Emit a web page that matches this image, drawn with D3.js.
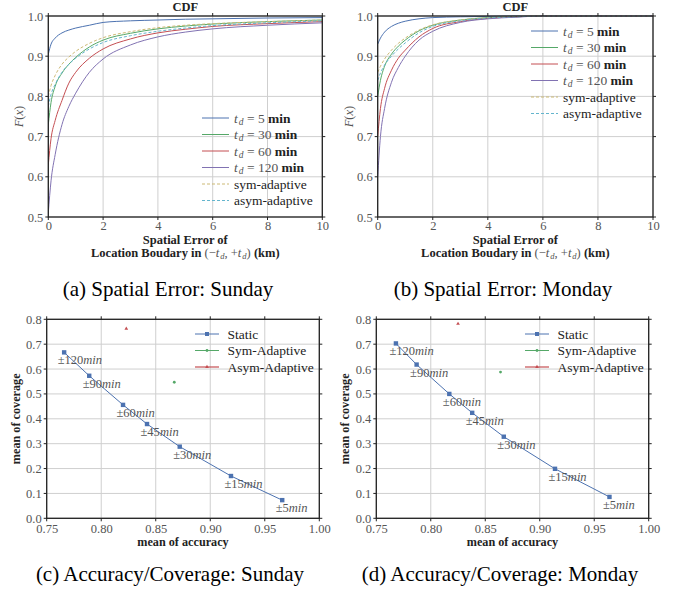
<!DOCTYPE html>
<html>
<head>
<meta charset="utf-8">
<script src="https://cdn.jsdelivr.net/npm/d3@7"></script>
<style>
  body { margin: 0; background: #fff; }
  svg text { font-family: "Liberation Serif", "DejaVu Serif", "Times New Roman", serif; }
</style>
</head>
<body>
<div id="chart"></div>
<script>
// sample positions along the spatial error axis (km)
const cdfX = [0, 0.1, 0.25, 0.5, 0.75, 1, 1.5, 2, 3, 4, 5, 6, 8, 10];

// Sunday CDF curves
const sunTd5   = [0.905, 0.93, 0.945, 0.958, 0.965, 0.97, 0.977, 0.984, 0.988, 0.99, 0.992, 0.993, 0.995, 0.996];
const sunTd30  = [0.73, 0.785, 0.825, 0.858, 0.88, 0.897, 0.923, 0.94, 0.957, 0.968, 0.975, 0.98, 0.986, 0.99];
const sunTd60  = [0.63, 0.695, 0.74, 0.79, 0.833, 0.86, 0.895, 0.918, 0.943, 0.958, 0.967, 0.974, 0.981, 0.986];
const sunTd120 = [0.51, 0.59, 0.655, 0.73, 0.775, 0.808, 0.86, 0.893, 0.928, 0.948, 0.96, 0.968, 0.977, 0.983];
const sunSym   = [0.80, 0.827, 0.852, 0.88, 0.898, 0.912, 0.932, 0.946, 0.961, 0.971, 0.977, 0.981, 0.986, 0.99];
const sunAsym  = [0.775, 0.805, 0.83, 0.86, 0.88, 0.895, 0.918, 0.934, 0.951, 0.962, 0.97, 0.976, 0.983, 0.988];

// Monday CDF curves
const monTd5   = [0.93, 0.945, 0.96, 0.974, 0.982, 0.987, 0.993, 0.996, 0.998, 0.999, 1.0, 1.0, 1.0, 1.0];
const monTd30  = [0.80, 0.84, 0.875, 0.905, 0.925, 0.94, 0.963, 0.977, 0.99, 0.996, 0.998, 1.0, 1.0, 1.0];
const monTd60  = [0.70, 0.77, 0.82, 0.865, 0.895, 0.915, 0.948, 0.969, 0.986, 0.994, 0.998, 1.0, 1.0, 1.0];
const monTd120 = [0.60, 0.70, 0.77, 0.835, 0.872, 0.9, 0.94, 0.962, 0.984, 0.993, 0.997, 1.0, 1.0, 1.0];
const monSym   = [0.86, 0.875, 0.893, 0.915, 0.932, 0.945, 0.965, 0.978, 0.99, 0.996, 0.999, 1.0, 1.0, 1.0];
const monAsym  = [0.84, 0.858, 0.878, 0.9, 0.918, 0.933, 0.958, 0.974, 0.988, 0.995, 0.998, 1.0, 1.0, 1.0];

const cdfNames = ['5', '30', '60', '120'];

// accuracy / coverage
const windowLabels = ['120', '90', '60', '45', '30', '15', '5'];
const sunAccuracy = [0.766, 0.789, 0.820, 0.842, 0.872, 0.919, 0.966];
const sunCoverage = [0.667, 0.573, 0.456, 0.379, 0.288, 0.170, 0.073];
const sunSymPoint = [0.867, 0.547];
const sunAsymPoint = [0.823, 0.762];

const monAccuracy = [0.768, 0.787, 0.817, 0.838, 0.867, 0.914, 0.964];
const monCoverage = [0.703, 0.618, 0.500, 0.424, 0.328, 0.199, 0.086];
const monSymPoint = [0.864, 0.588];
const monAsymPoint = [0.825, 0.782];

const colors = {
  blue: '#4C72B0', green: '#55A868', red: '#C44E52',
  purple: '#8172B2', yellow: '#CCB974', cyan: '#64B5CD'
};
const tickColor = '#555';
const spineColor = '#222';
const gridColor = '#cfcfcf';
const serif = '"Liberation Serif", "DejaVu Serif", serif';

const svg = d3.select('#chart').append('svg')
  .attr('width', 677)
  .attr('height', 591)
  .attr('font-family', serif);

function drawFrame(g, x, y, w, h, xTicks, yTicks, xFmt, yFmt, xPad) {
  // grid
  g.append('g').selectAll('line').data(xTicks).join('line')
    .attr('x1', d => x(d)).attr('x2', d => x(d))
    .attr('y1', 0).attr('y2', h)
    .attr('stroke', gridColor).attr('stroke-width', 1);
  g.append('g').selectAll('line').data(yTicks).join('line')
    .attr('y1', d => y(d)).attr('y2', d => y(d))
    .attr('x1', 0).attr('x2', w)
    .attr('stroke', gridColor).attr('stroke-width', 1);

  const ax = d3.axisBottom(x).tickValues(xTicks).tickFormat(xFmt).tickSize(0).tickPadding(xPad);
  const ay = d3.axisLeft(y).tickValues(yTicks).tickFormat(yFmt).tickSize(0).tickPadding(5);
  const gx = g.append('g').attr('transform', `translate(0,${h})`).call(ax);
  const gy = g.append('g').call(ay);
  [gx, gy].forEach(a => {
    a.attr('font-family', serif).attr('font-size', 12.5);
    a.select('.domain').remove();
    a.selectAll('text').attr('fill', tickColor);
  });
}

function drawSpines(g, x, y, w, h, xTicks, yTicks) {
  // small tick marks on all four sides
  const t = g.append('g').attr('stroke', spineColor).attr('stroke-width', 1);
  xTicks.forEach(d => {
    t.append('line').attr('x1', x(d)).attr('x2', x(d)).attr('y1', h).attr('y2', h + 3);
    t.append('line').attr('x1', x(d)).attr('x2', x(d)).attr('y1', 0).attr('y2', -3);
  });
  yTicks.forEach(d => {
    t.append('line').attr('y1', y(d)).attr('y2', y(d)).attr('x1', 0).attr('x2', -3);
    t.append('line').attr('y1', y(d)).attr('y2', y(d)).attr('x1', w).attr('x2', w + 3);
  });
  g.append('rect')
    .attr('width', w).attr('height', h)
    .attr('fill', 'none').attr('stroke', spineColor).attr('stroke-width', 1.3);
}

// italic t with subscript d, written into a text element
function tdMath(t, fill, sub) {
  t.append('tspan').attr('fill', fill).attr('font-style', 'italic').text('t');
  t.append('tspan').attr('fill', fill).attr('font-style', 'italic')
    .attr('font-size', sub).attr('dx', 1).attr('dy', 2).text('d');
}

function cdfPanel(opts) {
  const { left, right, top, bottom, series, legendX, legendY, caption, capX } = opts;
  const w = right - left, h = bottom - top;
  const g = svg.append('g').attr('transform', `translate(${left},${top})`);

  const x = d3.scaleLinear().domain([0, 10]).range([0, w]);
  const y = d3.scaleLinear().domain([0.5, 1.0]).range([h, 0]);
  const xTicks = [0, 2, 4, 6, 8, 10];
  const yTicks = [0.5, 0.6, 0.7, 0.8, 0.9, 1.0];

  drawFrame(g, x, y, w, h, xTicks, yTicks, d3.format('d'), d3.format('.1f'), 4);

  const line = d3.line()
    .x((d, i) => x(cdfX[i]))
    .y(d => y(d))
    .curve(d3.curveMonotoneX);

  const clip = 'clip' + Math.round(left);
  g.append('clipPath').attr('id', clip).append('rect')
    .attr('x', 0).attr('y', -1).attr('width', w).attr('height', h + 1);

  g.append('g').attr('clip-path', `url(#${clip})`)
    .selectAll('path').data(series).join('path')
    .attr('d', d => line(d.values))
    .attr('fill', 'none')
    .attr('stroke', d => d.color)
    .attr('stroke-width', 1)
    .attr('stroke-dasharray', d => d.dashed ? '3,2' : null);

  drawSpines(g, x, y, w, h, xTicks, yTicks);

  // title
  g.append('text').attr('x', w / 2).attr('y', -5)
    .attr('text-anchor', 'middle')
    .attr('font-size', 12.5).attr('font-weight', 'bold').attr('fill', '#222')
    .text('CDF');

  // y label
  const yl = g.append('text')
    .attr('transform', `translate(-25,${h / 2}) rotate(-90)`)
    .attr('text-anchor', 'middle')
    .attr('font-size', 12.5).attr('fill', tickColor);
  yl.append('tspan').attr('font-style', 'italic').text('F');
  yl.append('tspan').text('(');
  yl.append('tspan').attr('font-style', 'italic').text('x');
  yl.append('tspan').text(')');

  // x label (two lines)
  g.append('text').attr('x', w / 2).attr('y', h + 27)
    .attr('text-anchor', 'middle')
    .attr('font-size', 12.5).attr('font-weight', 'bold').attr('fill', '#222')
    .text('Spatial Error of');
  const xl = g.append('text').attr('x', w / 2).attr('y', h + 39.5)
    .attr('text-anchor', 'middle')
    .attr('font-size', 12.5).attr('fill', '#222');
  xl.append('tspan').attr('font-weight', 'bold').text('Location Boudary in ');
  xl.append('tspan').attr('fill', tickColor).text('(−');
  tdMath(xl, tickColor, 8.5);
  xl.append('tspan').attr('fill', tickColor).attr('dy', -2).text(', +');
  tdMath(xl, tickColor, 8.5);
  xl.append('tspan').attr('fill', tickColor).attr('dy', -2).text(') ');
  xl.append('tspan').attr('font-weight', 'bold').text('(km)');

  // legend
  const lg = svg.append('g').attr('transform', `translate(${legendX},${legendY})`);
  series.forEach((s, i) => {
    const row = lg.append('g').attr('transform', `translate(0,${i * 16.5})`);
    row.append('line').attr('x1', 0).attr('x2', 27).attr('y1', 0).attr('y2', 0)
      .attr('stroke', s.color).attr('stroke-width', 1)
      .attr('stroke-dasharray', s.dashed ? '3,2' : null);
    const t = row.append('text').attr('x', 32).attr('y', 4.5)
      .attr('font-size', 13.5).attr('fill', '#222');
    if (s.td) {
      tdMath(t, tickColor, 9.5);
      t.append('tspan').attr('fill', tickColor).attr('dy', -2).text(' = ' + s.td + ' ');
      t.append('tspan').attr('font-weight', 'bold').text('min');
    } else {
      t.append('tspan').text(s.name);
    }
  });

  svg.append('text').attr('x', capX).attr('y', 296)
    .attr('text-anchor', 'middle')
    .attr('font-size', 21).attr('fill', '#000')
    .text(caption);
}

function scatterPanel(opts) {
  const { left, right, top, bottom, acc, cov, sym, asym, legendX, legendY, caption, capX } = opts;
  const w = right - left, h = bottom - top;
  const g = svg.append('g').attr('transform', `translate(${left},${top})`);

  const x = d3.scaleLinear().domain([0.75, 1.0]).range([0, w]);
  const y = d3.scaleLinear().domain([0, 0.8]).range([h, 0]);
  const xTicks = [0.75, 0.80, 0.85, 0.90, 0.95, 1.00];
  const yTicks = [0, 0.1, 0.2, 0.3, 0.4, 0.5, 0.6, 0.7, 0.8];

  drawFrame(g, x, y, w, h, xTicks, yTicks, d3.format('.2f'), d3.format('.1f'), 6);

  const pts = acc.map((a, i) => ({ a, c: cov[i], label: windowLabels[i] }));
  const line = d3.line().x(d => x(d.a)).y(d => y(d.c));

  g.append('path').attr('d', line(pts))
    .attr('fill', 'none').attr('stroke', colors.blue).attr('stroke-width', 1);

  g.selectAll('rect.pt').data(pts).join('rect')
    .attr('class', 'pt')
    .attr('x', d => x(d.a) - 2.2).attr('y', d => y(d.c) - 2.2)
    .attr('width', 4.4).attr('height', 4.4)
    .attr('fill', colors.blue);

  g.append('circle').attr('cx', x(sym[0])).attr('cy', y(sym[1])).attr('r', 1.4)
    .attr('fill', colors.green);
  g.append('path').attr('d', d3.symbol(d3.symbolTriangle, 6)())
    .attr('transform', `translate(${x(asym[0])},${y(asym[1])})`)
    .attr('fill', colors.red);

  // window labels
  pts.forEach(d => {
    const t = g.append('text')
      .attr('x', x(d.a) - 6.5).attr('y', y(d.c) + 12)
      .attr('font-size', 12.5).attr('fill', tickColor);
    t.append('tspan').text('±' + d.label);
    t.append('tspan').attr('font-style', 'italic').text('min');
  });

  drawSpines(g, x, y, w, h, xTicks, yTicks);

  g.append('text').attr('x', w / 2).attr('y', h + 28)
    .attr('text-anchor', 'middle')
    .attr('font-size', 12.2).attr('font-weight', 'bold').attr('fill', '#222')
    .text('mean of accuracy');
  g.append('text')
    .attr('transform', `translate(-27,${h / 2}) rotate(-90)`)
    .attr('text-anchor', 'middle')
    .attr('font-size', 12.2).attr('font-weight', 'bold').attr('fill', '#222')
    .text('mean of coverage');

  // legend
  const lg = svg.append('g').attr('transform', `translate(${legendX},${legendY})`);
  const items = [
    { name: 'Static', color: colors.blue, mark: 'square', width: 1, alpha: 1 },
    { name: 'Sym-Adaptive', color: colors.green, mark: 'dot', width: 1, alpha: 1 },
    { name: 'Asym-Adaptive', color: colors.red, mark: 'tri', width: 2, alpha: 0.6 }
  ];
  items.forEach((it, i) => {
    const row = lg.append('g').attr('transform', `translate(0,${i * 16.5})`);
    row.append('line').attr('x1', 0).attr('x2', 24)
      .attr('stroke', it.color).attr('stroke-width', it.width).attr('stroke-opacity', it.alpha);
    if (it.mark === 'square') {
      row.append('rect').attr('x', 10).attr('y', -2).attr('width', 4).attr('height', 4).attr('fill', it.color);
    } else if (it.mark === 'dot') {
      row.append('circle').attr('cx', 12).attr('r', 1.4).attr('fill', it.color);
    } else {
      row.append('path').attr('d', d3.symbol(d3.symbolTriangle, 6)())
        .attr('transform', 'translate(12,0)').attr('fill', it.color);
    }
    row.append('text').attr('x', 32.5).attr('y', 4.5)
      .attr('font-size', 13.5).attr('fill', '#222').text(it.name);
  });

  svg.append('text').attr('x', capX).attr('y', 581)
    .attr('text-anchor', 'middle')
    .attr('font-size', 21).attr('fill', '#000')
    .text(caption);
}

function cdfSeries(v5, v30, v60, v120, sym, asym) {
  return [
    { td: cdfNames[0], values: v5, color: colors.blue },
    { td: cdfNames[1], values: v30, color: colors.green },
    { td: cdfNames[2], values: v60, color: colors.red },
    { td: cdfNames[3], values: v120, color: colors.purple },
    { name: 'sym-adaptive', values: sym, color: colors.yellow, dashed: true },
    { name: 'asym-adaptive', values: asym, color: colors.cyan, dashed: true }
  ];
}

cdfPanel({
  left: 48.3, right: 322.3, top: 16, bottom: 217,
  series: cdfSeries(sunTd5, sunTd30, sunTd60, sunTd120, sunSym, sunAsym),
  legendX: 202, legendY: 118,
  caption: '(a)  Spatial Error: Sunday', capX: 168
});
cdfPanel({
  left: 377.7, right: 653, top: 16, bottom: 217,
  series: cdfSeries(monTd5, monTd30, monTd60, monTd120, monSym, monAsym),
  legendX: 531, legendY: 31,
  caption: '(b)  Spatial Error: Monday', capX: 503
});
scatterPanel({
  left: 46.7, right: 319.3, top: 319.3, bottom: 518.3,
  acc: sunAccuracy, cov: sunCoverage, sym: sunSymPoint, asym: sunAsymPoint,
  legendX: 195, legendY: 334,
  caption: '(c)  Accuracy/Coverage: Sunday', capX: 170
});
scatterPanel({
  left: 376.3, right: 648.7, top: 319.3, bottom: 518.3,
  acc: monAccuracy, cov: monCoverage, sym: monSymPoint, asym: monAsymPoint,
  legendX: 525, legendY: 334,
  caption: '(d)  Accuracy/Coverage: Monday', capX: 500
});
</script>
</body>
</html>
